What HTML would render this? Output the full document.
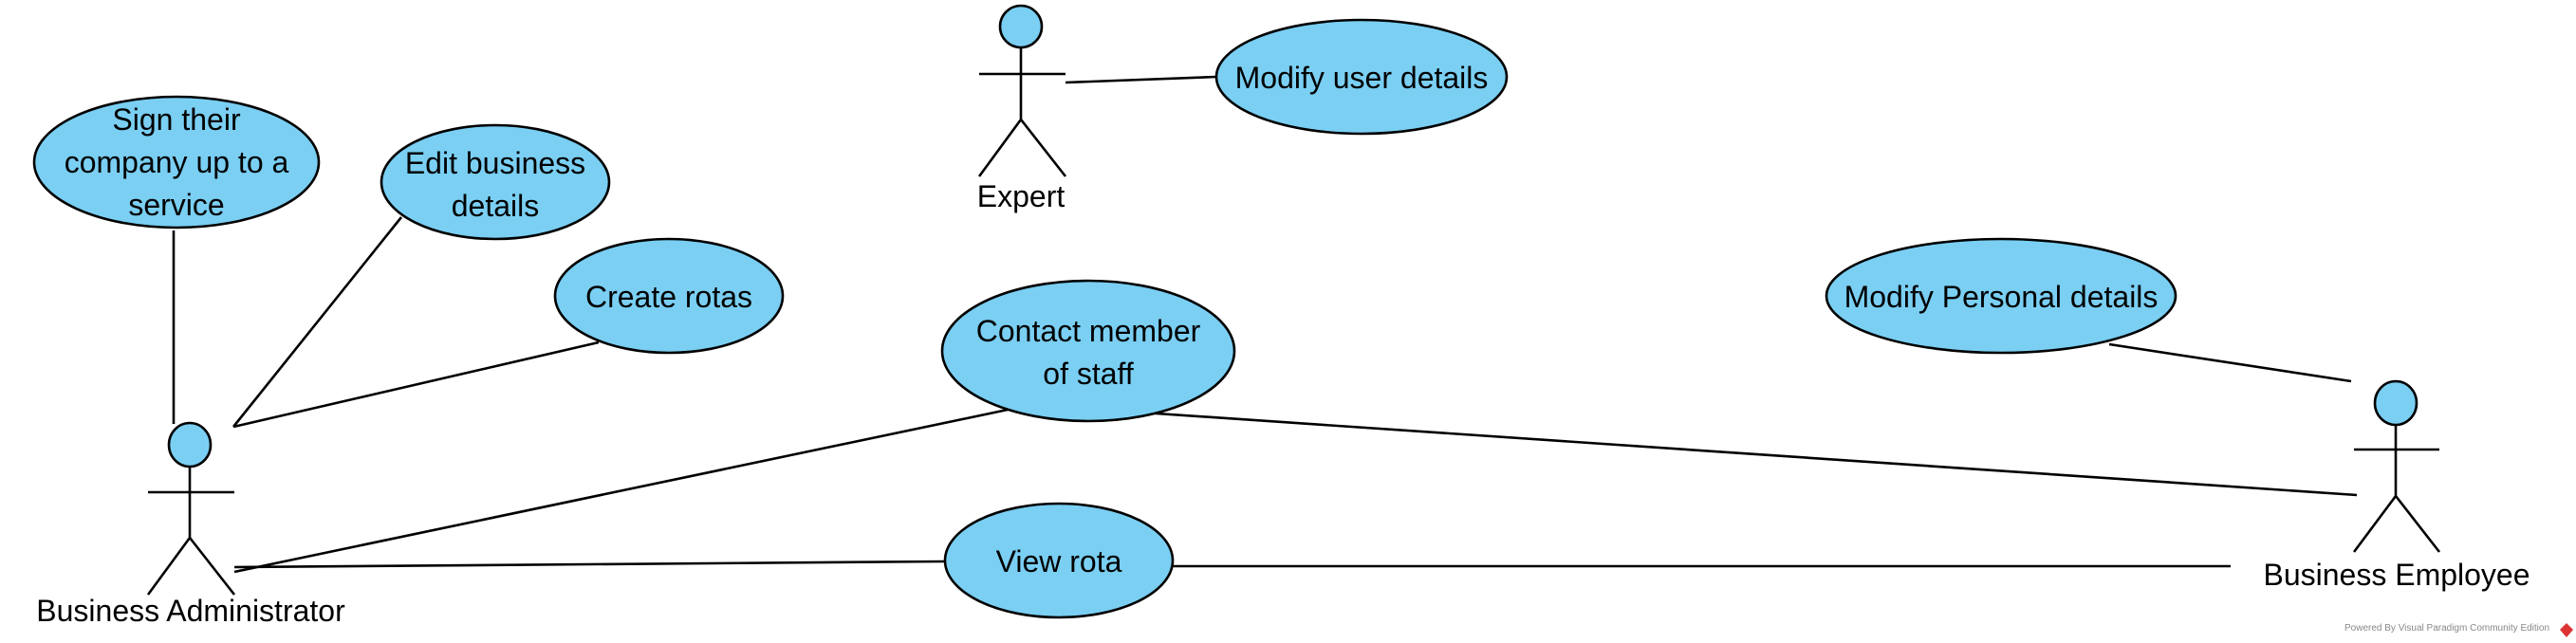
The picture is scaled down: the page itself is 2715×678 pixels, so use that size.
<!DOCTYPE html>
<html><head><meta charset="utf-8"><style>
html,body{margin:0;padding:0;background:#fff;}
svg{display:block;}
text{font-family:"Liberation Sans",Arial,sans-serif;font-size:32px;fill:#000;}
</style></head><body>
<svg width="2715" height="678" viewBox="0 0 2715 678" xmlns="http://www.w3.org/2000/svg">
<g stroke="#000" stroke-width="2.6" fill="none">
<line x1="183" y1="243" x2="183" y2="447"/>
<line x1="423" y1="229" x2="246" y2="450"/>
<line x1="631" y1="361" x2="246" y2="450"/>
<line x1="247" y1="603" x2="1062" y2="432"/>
<line x1="247" y1="598" x2="996" y2="592"/>
<line x1="1236" y1="597" x2="2351" y2="597"/>
<line x1="1204" y1="435" x2="2484" y2="522"/>
<line x1="1123" y1="87" x2="1282" y2="81"/>
<line x1="2223" y1="363" x2="2478" y2="402"/>
</g>
<g stroke="#000" stroke-width="2.6" fill="#7acff3">
<ellipse cx="186" cy="171" rx="150" ry="69"/>
<ellipse cx="522" cy="192" rx="120" ry="60"/>
<ellipse cx="705" cy="312" rx="120" ry="60"/>
<ellipse cx="1435" cy="81" rx="153" ry="60"/>
<ellipse cx="1147" cy="370" rx="154" ry="74"/>
<ellipse cx="1116" cy="591" rx="120" ry="60"/>
<ellipse cx="2109" cy="312" rx="184" ry="60"/>
</g>
<g stroke="#000" stroke-width="2.6" fill="#7acff3">
<ellipse cx="200" cy="469" rx="22" ry="23"/>
<ellipse cx="1076" cy="28" rx="22" ry="22"/>
<ellipse cx="2525" cy="425" rx="22" ry="23"/>
</g>
<g stroke="#000" stroke-width="2.6" fill="none">
<path d="M200 492V567M156 519H247M156 627L200 567L247 627"/>
<path d="M1076 50V126M1032 78H1123M1032 186L1076 126L1123 186"/>
<path d="M2525 448V523M2481 474H2571M2481 582L2525 523L2571 582"/>
</g>
<g text-anchor="middle">
<text x="186" y="137">Sign their</text>
<text x="186" y="182">company up to a</text>
<text x="186" y="227">service</text>
<text x="522" y="183">Edit business</text>
<text x="522" y="228">details</text>
<text x="705" y="324">Create rotas</text>
<text x="1435" y="93">Modify user details</text>
<text x="1147" y="360">Contact member</text>
<text x="1147" y="405">of staff</text>
<text x="1116" y="603">View rota</text>
<text x="2109" y="324">Modify Personal details</text>
<text x="201" y="655">Business Administrator</text>
<text x="1076" y="218">Expert</text>
<text x="2526" y="617">Business Employee</text>
</g>
<text x="2471" y="665" style="font-size:10px;fill:#888;">Powered By Visual Paradigm Community Edition</text>
<path d="M2705 657L2712 664L2705 672L2698 664Z" fill="#d33"/>
</svg>
</body></html>
